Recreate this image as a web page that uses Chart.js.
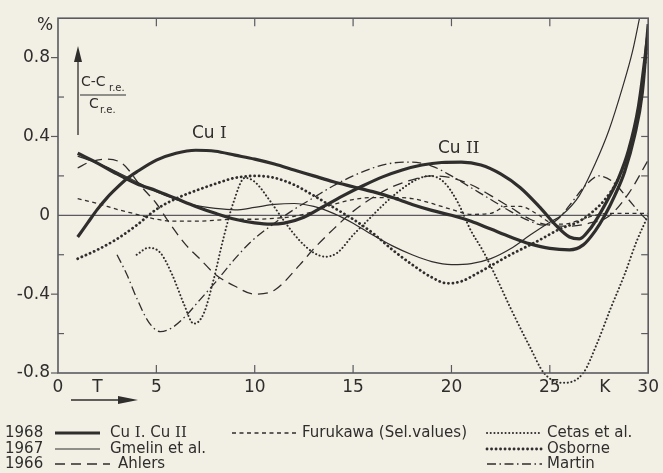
<!DOCTYPE html>
<html>
<head>
<meta charset="utf-8">
<script src="https://cdn.jsdelivr.net/npm/chart.js@4.4.1/dist/chart.umd.min.js"></script>
<style>
  html, body { margin: 0; padding: 0; background: #f2efe5; }
  canvas { display: block; }
</style>
</head>
<body>
<canvas id="chart" width="663" height="473"></canvas>
<script>
// Axis tick labels
const xTickValues = [0, 2, 5, 10, 15, 20, 25, 27.8, 30];
const xTickLabels = ['0', 'T', '5', '10', '15', '20', '25', 'K', '30'];
const yTickValues = [-0.8, -0.4, 0, 0.4, 0.8];
const yTickLabels = ['-0.8', '-0.4', '0', '0.4', '0.8'];

// Relative deviation (c - c_r.e.)/c_r.e. in %, against temperature T in K
const cuI_T   = [1, 1.5, 2, 2.5, 3, 3.5, 4, 5, 6, 7, 8, 9, 10, 11, 12, 13, 14, 15, 16, 17, 18, 19, 20, 21, 22, 23, 24, 25, 26, 26.7, 27.3, 27.8, 28.3, 28.8, 29.3, 29.7, 30];
const cuI_dev = [-0.11, -0.04, 0.03, 0.09, 0.14, 0.185, 0.22, 0.28, 0.315, 0.33, 0.325, 0.305, 0.285, 0.26, 0.23, 0.2, 0.17, 0.145, 0.12, 0.09, 0.055, 0.025, 0.0, -0.03, -0.07, -0.11, -0.145, -0.168, -0.175, -0.15, -0.08, 0.0, 0.1, 0.22, 0.4, 0.62, 0.97];

const cuII_T   = [1, 2, 3, 4, 5, 6, 7, 8, 9, 10, 10.8, 11.5, 12.5, 13.5, 14.5, 15.5, 16.5, 17.5, 18.5, 19.5, 20.5, 21.5, 22.5, 23.5, 24.5, 25.3, 26, 26.5, 27, 27.5, 28, 28.5, 29, 29.5, 30];
const cuII_dev = [0.315, 0.265, 0.21, 0.16, 0.125, 0.085, 0.045, 0.01, -0.02, -0.038, -0.045, -0.04, -0.01, 0.045, 0.1, 0.15, 0.195, 0.23, 0.255, 0.268, 0.27, 0.255, 0.21, 0.14, 0.04, -0.05, -0.11, -0.12, -0.075, 0.0, 0.09, 0.19, 0.33, 0.55, 0.93];

const gmelin_T   = [1, 2, 3, 4, 5, 6, 7, 8, 9, 10, 11, 12, 13, 14, 15, 16, 17, 18, 19, 20, 21, 22, 23, 24, 25, 25.6, 26.5, 27.3, 28, 28.7, 29.2, 29.6];
const gmelin_dev = [0.3, 0.265, 0.22, 0.17, 0.12, 0.08, 0.05, 0.035, 0.028, 0.04, 0.055, 0.06, 0.045, 0.01, -0.04, -0.1, -0.155, -0.2, -0.235, -0.25, -0.245, -0.22, -0.17, -0.1, -0.035, 0.0, 0.1, 0.26, 0.43, 0.65, 0.83, 1.02];

const ahlers_T   = [1, 1.6, 2.5, 3.3, 4.2, 5, 5.6, 6.5, 7.2, 8, 9, 10, 11, 12.3, 13, 14, 15, 16, 17, 18, 19, 20, 21, 22, 23, 24, 25, 26, 27, 28, 29, 30];
const ahlers_dev = [0.24, 0.27, 0.285, 0.26, 0.15, 0.06, -0.03, -0.15, -0.22, -0.3, -0.36, -0.4, -0.38, -0.25, -0.17, -0.07, 0.02, 0.09, 0.145, 0.18, 0.2, 0.19, 0.155, 0.1, 0.04, -0.02, -0.05, -0.055, -0.04, -0.005, 0.11, 0.28];

const furukawa_T   = [1, 2, 3, 4, 5, 6, 7, 8, 9, 10, 11, 12, 13, 14, 15, 16, 17, 18, 19, 20, 21, 22, 22.8, 23.5, 24.3, 25, 25.7, 26.5, 27.3, 28, 29, 30];
const furukawa_dev = [0.085, 0.06, 0.03, 0.005, -0.02, -0.03, -0.03, -0.025, -0.02, -0.02, -0.015, -0.005, 0.02, 0.055, 0.08, 0.09, 0.09, 0.085, 0.06, 0.03, 0.005, 0.01, 0.045, 0.045, 0.01, -0.035, -0.045, -0.025, 0.0, 0.01, 0.01, 0.01];

const cetas_T   = [4, 4.6, 5.2, 5.8, 6.4, 6.9, 7.4, 7.9, 8.4, 8.9, 9.5, 10, 10.8, 11.5, 12.3, 13, 13.6, 14.2, 15, 15.8, 16.5, 17.3, 18.2, 18.9, 19.6, 20.3, 21, 21.6, 22.3, 23, 24, 24.7, 25.7, 26.7, 27.4, 28.1, 28.8, 29.4, 30];
const cetas_dev = [-0.2, -0.165, -0.19, -0.3, -0.45, -0.55, -0.5, -0.33, -0.12, 0.06, 0.19, 0.17, 0.07, -0.03, -0.13, -0.19, -0.21, -0.19, -0.1, -0.02, 0.05, 0.12, 0.18, 0.2, 0.17, 0.07, -0.08, -0.18, -0.32, -0.47, -0.67, -0.8, -0.85, -0.8, -0.65, -0.47, -0.3, -0.135, 0.0];

const osborne_T   = [1, 2, 3, 4, 5, 6, 7, 8, 9, 10, 11, 12, 13, 14, 15, 16, 17, 18, 19, 19.8, 20.5, 21.3, 22.2, 23, 24.3, 25.5, 26.5, 27.2, 27.8, 28.4, 29, 29.5, 30];
const osborne_dev = [-0.22, -0.175, -0.12, -0.05, 0.03, 0.085, 0.125, 0.16, 0.19, 0.2, 0.19, 0.155, 0.1, 0.04, -0.02, -0.09, -0.175, -0.25, -0.315, -0.345, -0.335, -0.295, -0.245, -0.2, -0.135, -0.07, -0.03, 0.02, 0.08, 0.17, 0.32, 0.52, 0.9];

const martin_T   = [3, 3.5, 4, 4.6, 5.2, 5.8, 6.5, 7.2, 8, 9, 9.8, 11, 12, 13, 14, 15, 16, 17, 18, 19, 20, 21, 22, 23, 24, 24.7, 25.4, 26, 26.8, 27.5, 28.2, 29, 29.6, 30];
const martin_dev = [-0.2, -0.3, -0.42, -0.54, -0.59, -0.57, -0.51, -0.43, -0.34, -0.22, -0.135, -0.04, 0.03, 0.09, 0.15, 0.2, 0.24, 0.265, 0.27, 0.25, 0.2, 0.14, 0.08, 0.02, -0.03, -0.05, -0.02, 0.05, 0.15, 0.2, 0.17, 0.08, 0.01, -0.03];

const INK = '#2f2e2c';
const AXIS = '#5b5a60';
const SANS = '"DejaVu Sans", sans-serif';
const SERIF = '"DejaVu Serif", serif';

const pts = (T, v) => T.map((t, i) => ({ x: t, y: v[i] }));

const common = {
  borderColor: INK, backgroundColor: INK, showLine: true, fill: false,
  pointRadius: 0, pointHoverRadius: 0, cubicInterpolationMode: 'monotone'
};

const datasets = [
  { ...common, label: 'Cetas et al.', data: pts(cetas_T, cetas_dev), borderWidth: 2.0, borderDash: [0.1, 3.6], borderCapStyle: 'round', clip: { left: 0, top: 0, right: 0, bottom: 12 } },
  { ...common, label: 'Martin', data: pts(martin_T, martin_dev), borderWidth: 1.3, borderDash: [9, 3.5, 1.5, 3.5] },
  { ...common, label: 'Ahlers', data: pts(ahlers_T, ahlers_dev), borderWidth: 1.3, borderDash: [10, 6] },
  { ...common, label: 'Furukawa (Sel.values)', data: pts(furukawa_T, furukawa_dev), borderWidth: 1.3, borderDash: [4, 3.5] },
  { ...common, label: 'Osborne', data: pts(osborne_T, osborne_dev), borderWidth: 2.8, borderDash: [0.1, 4.4], borderCapStyle: 'round' },
  { ...common, label: 'Gmelin et al.', data: pts(gmelin_T, gmelin_dev), borderWidth: 1.2 },
  { ...common, label: 'Cu II', data: pts(cuII_T, cuII_dev), borderWidth: 3.2 },
  { ...common, label: 'Cu I', data: pts(cuI_T, cuI_dev), borderWidth: 3.2 }
];

function seg(ctx, x1, y1, x2, y2) {
  ctx.beginPath(); ctx.moveTo(x1, y1); ctx.lineTo(x2, y2); ctx.stroke();
}

// Text made of runs in different fonts (roman numerals are set in a serif face)
function runs(ctx, parts, x, y) {
  let cx = x;
  for (const [txt, font] of parts) {
    ctx.font = font;
    ctx.fillText(txt, cx, y);
    cx += ctx.measureText(txt).width;
  }
}

function sample(ctx, ds, x1, x2, y) {
  ctx.save();
  ctx.strokeStyle = ds.borderColor;
  ctx.lineWidth = ds.borderWidth;
  ctx.setLineDash(ds.borderDash || []);
  ctx.lineCap = ds.borderCapStyle || 'butt';
  seg(ctx, x1, y, x2, y);
  ctx.restore();
}

const decorations = {
  id: 'decorations',
  beforeDatasetsDraw(chart) {
    const { ctx, chartArea: a, scales: { x, y } } = chart;
    ctx.save();
    ctx.strokeStyle = AXIS;
    ctx.lineWidth = 1.2;
    // zero line
    const y0 = y.getPixelForValue(0);
    seg(ctx, a.left, y0, a.right, y0);
    // left axis: labelled ticks outward, others inward
    for (const v of [0.8, 0.4, -0.4, -0.8]) {
      const py = y.getPixelForValue(v);
      seg(ctx, a.left - 7, py, a.left, py);
    }
    for (const v of [0.6, 0.2, -0.2, -0.6]) {
      const py = y.getPixelForValue(v);
      seg(ctx, a.left, py, a.left + 6, py);
    }
    // right axis: inward ticks
    for (const v of [0.8, 0.6, 0.4, 0.2, -0.2, -0.4, -0.6]) {
      const py = y.getPixelForValue(v);
      seg(ctx, a.right - 7, py, a.right, py);
    }
    // top and bottom: inward ticks
    for (const v of [5, 10, 15, 20, 25]) {
      const px = x.getPixelForValue(v);
      seg(ctx, px, a.bottom, px, a.bottom - 8);
      seg(ctx, px, a.top, px, a.top + 8);
    }
    ctx.restore();
  },
  afterDatasetsDraw(chart) {
    const { ctx, chartArea: a } = chart;
    ctx.save();
    ctx.strokeStyle = AXIS;
    ctx.lineWidth = 1.6;
    ctx.strokeRect(a.left, a.top, a.right - a.left, a.bottom - a.top);
    ctx.restore();
  },
  afterDraw(chart) {
    const { ctx } = chart;
    const byLabel = l => chart.data.datasets.find(d => d.label === l);
    ctx.save();
    ctx.fillStyle = INK;
    ctx.strokeStyle = INK;
    ctx.textBaseline = 'middle';

    // unit
    ctx.font = '17px ' + SANS;
    ctx.textAlign = 'center';
    ctx.fillText('%', 45, 26);

    // quantity arrow and fraction
    ctx.lineWidth = 1.3;
    seg(ctx, 78, 135, 78, 58);
    ctx.beginPath(); ctx.moveTo(78, 46); ctx.lineTo(74, 62); ctx.lineTo(82, 62); ctx.closePath(); ctx.fill();
    ctx.textAlign = 'left';
    ctx.font = '14px ' + SANS;
    ctx.fillText('C-C', 81, 82);
    ctx.font = '10px ' + SANS;
    ctx.fillText('r.e.', 109, 88);
    ctx.lineWidth = 1.1;
    seg(ctx, 80, 95, 126, 95);
    ctx.font = '14px ' + SANS;
    ctx.fillText('C', 89, 104);
    ctx.font = '10px ' + SANS;
    ctx.fillText('r.e.', 100, 110);

    // curve names
    runs(ctx, [['Cu ', '17px ' + SANS], ['I', '17px ' + SERIF]], 192, 134);
    runs(ctx, [['Cu ', '17px ' + SANS], ['II', '17px ' + SERIF]], 438, 149);

    // arrow along the temperature axis
    ctx.lineWidth = 1.3;
    seg(ctx, 71, 400, 122, 400);
    ctx.beginPath(); ctx.moveTo(138, 400); ctx.lineTo(118, 396); ctx.lineTo(118, 404); ctx.closePath(); ctx.fill();

    // key
    const rows = [433, 449, 464];
    const f = '15px ' + SANS;
    ctx.font = f;
    ctx.fillText('1968', 5, rows[0]);
    ctx.fillText('1967', 5, rows[1]);
    ctx.fillText('1966', 5, rows[2]);

    sample(ctx, byLabel('Cu I'), 55, 100, rows[0]);
    runs(ctx, [['Cu ', f], ['I', '15px ' + SERIF], ['. Cu ', f], ['II', '15px ' + SERIF]], 110, rows[0]);
    sample(ctx, byLabel('Gmelin et al.'), 55, 100, rows[1]);
    ctx.font = f; ctx.fillText('Gmelin et al.', 110, rows[1]);
    sample(ctx, byLabel('Ahlers'), 55, 110, rows[2]);
    ctx.font = f; ctx.fillText('Ahlers', 118, rows[2]);

    sample(ctx, byLabel('Furukawa (Sel.values)'), 232, 296, rows[0]);
    ctx.font = f; ctx.fillText('Furukawa (Sel.values)', 302, rows[0]);

    sample(ctx, byLabel('Cetas et al.'), 487, 542, rows[0]);
    ctx.font = f; ctx.fillText('Cetas et al.', 547, rows[0]);
    sample(ctx, byLabel('Osborne'), 487, 542, rows[1]);
    ctx.font = f; ctx.fillText('Osborne', 547, rows[1]);
    sample(ctx, byLabel('Martin'), 487, 542, rows[2]);
    ctx.font = f; ctx.fillText('Martin', 547, rows[2]);

    ctx.restore();
  }
};

new Chart(document.getElementById('chart'), {
  type: 'scatter',
  data: { datasets },
  options: {
    responsive: false,
    animation: false,
    events: [],
    layout: { padding: { top: 14, right: 13, left: 0, bottom: 0 } },
    plugins: { legend: { display: false }, tooltip: { enabled: false } },
    scales: {
      x: {
        type: 'linear', min: 0, max: 30,
        grid: { display: false, drawTicks: false },
        border: { display: false },
        afterBuildTicks: s => { s.ticks = xTickValues.map(v => ({ value: v })); },
        afterFit: s => { s.height = 100; },
        ticks: {
          autoSkip: false, maxRotation: 0, padding: 4,
          color: INK, font: { family: SANS, size: 17 },
          callback: v => xTickLabels[xTickValues.indexOf(v)]
        }
      },
      y: {
        type: 'linear', min: -0.8, max: 1.0,
        grid: { display: false, drawTicks: false },
        border: { display: false },
        afterBuildTicks: s => { s.ticks = yTickValues.map(v => ({ value: v })); },
        afterFit: s => { s.width = 58; },
        ticks: {
          autoSkip: false, padding: 8,
          color: INK, font: { family: SANS, size: 17 },
          callback: v => yTickLabels[yTickValues.indexOf(v)]
        }
      }
    }
  },
  plugins: [decorations]
});
</script>
</body>
</html>
